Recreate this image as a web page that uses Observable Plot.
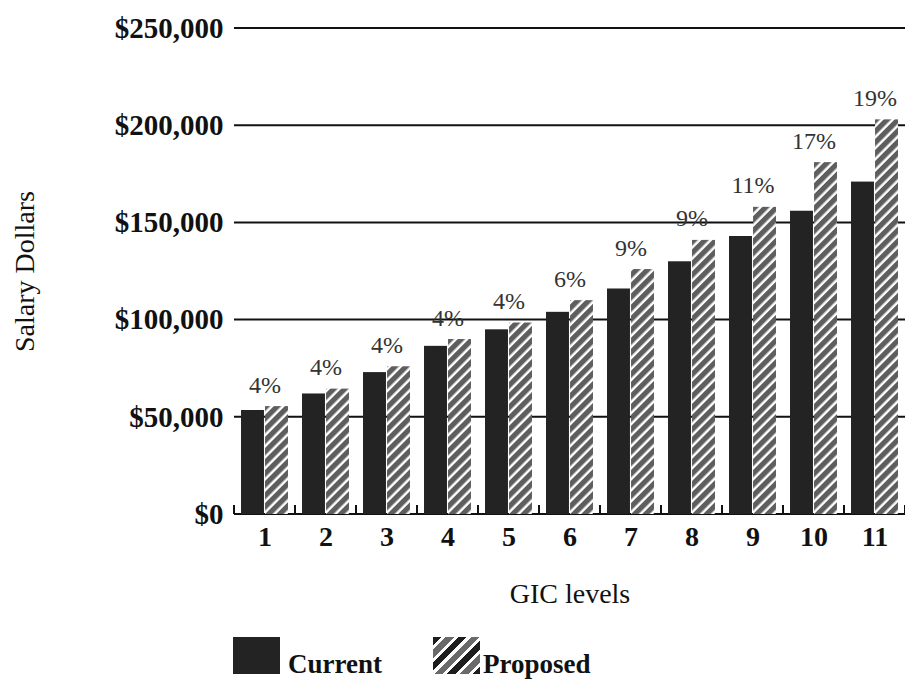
<!DOCTYPE html>
<html>
<head>
<meta charset="utf-8">
<script src="https://cdn.jsdelivr.net/npm/d3@7"></script>
<script src="https://cdn.jsdelivr.net/npm/@observablehq/plot@0.6"></script>
<style>
  body { margin: 0; background: #fff; }
  #wrap { position: relative; width: 905px; height: 682px; overflow: hidden; }
  g[aria-label="y-axis tick label"], g[aria-label="fx-axis tick label"] { font-weight: bold; }
  g[aria-label="y-axis tick label"] { font-size: 29px; }
  g[aria-label="fx-axis tick label"] { font-size: 28px; }
  .leg { position: absolute; font-family: "Liberation Serif", serif; font-size: 27px; font-weight: bold; color: #111; line-height: 27px; white-space: nowrap; }
  .sw { position: absolute; width: 47px; height: 37px; }
</style>
</head>
<body>
<div id="wrap">
  <div id="chart"></div>
  <div class="sw" style="left:233px;top:637px;background:#232323;"></div>
  <div class="leg" style="left:288px;top:651px;">Current</div>
  <div class="sw" style="left:433px;top:637px;background:repeating-linear-gradient(135deg,#1e1e1e 0 6px,#fff 6px 9px,#6a6a6a 9px 15px,#fff 15px 18px);"></div>
  <div class="leg" style="left:483px;top:651px;">Proposed</div>
</div>
<script>
const levels = [1, 2, 3, 4, 5, 6, 7, 8, 9, 10, 11];
const currentSalary = [53500, 62000, 73000, 86500, 95000, 104000, 116000, 130000, 143000, 156000, 171000];
const proposedSalary = [55500, 64500, 76000, 90000, 98500, 110000, 126000, 141000, 158000, 181000, 203000];
const increasePct = [4, 4, 4, 4, 4, 6, 9, 9, 11, 17, 19];
const seriesNames = ["Current", "Proposed"];
const yTicks = [0, 50000, 100000, 150000, 200000, 250000];

const bars = levels.flatMap((l, i) => [
  {level: l, series: seriesNames[0], value: currentSalary[i]},
  {level: l, series: seriesNames[1], value: proposedSalary[i]}
]);
const pctRows = levels.map((l, i) => ({level: l, value: proposedSalary[i], pct: increasePct[i]}));

const chart = Plot.plot({
  width: 905,
  height: 620,
  marginTop: 28,
  marginBottom: 106,
  marginLeft: 234,
  marginRight: 0,
  style: {fontFamily: "'Liberation Serif', serif", fontSize: "28px", color: "#111", background: "#fff", overflow: "visible"},
  fx: {
    domain: levels, axis: "bottom", paddingInner: 0.23, paddingOuter: 0.115, round: false,
    tickSize: 0, tickPadding: 12, label: "GIC levels", labelAnchor: "center", labelOffset: 88
  },
  x: {domain: seriesNames, axis: null, paddingInner: 0.045, paddingOuter: 0, round: false},
  y: {
    domain: [0, 250000], ticks: yTicks, tickFormat: d3.format("$,"), tickSize: 0, tickPadding: 18,
    label: "Salary Dollars", labelAnchor: "center", labelOffset: 227, labelArrow: "none"
  },
  marks: [
    Plot.barY(bars.filter(d => d.series === "Current"), {fx: "level", x: "series", y: "value", fill: "#232323"}),
    Plot.barY(bars.filter(d => d.series === "Proposed"), {fx: "level", x: "series", y: "value", fill: "url(#hatch)"}),
    Plot.text(pctRows, {fx: "level", y: "value", text: d => d.pct + "%", dy: -14, lineAnchor: "bottom", fontSize: 24, fill: "#333"})
  ]
});

const svg = chart.tagName.toLowerCase() === "svg" ? chart : chart.querySelector("svg");
const fx = chart.scale("fx"), ys = chart.scale("y");
const frameLeft = fx.range[0], frameRight = fx.range[1];

// continuous gridlines across all facets, drawn behind the bars through the y scale
const grid = d3.select(svg).insert("g", ":first-child").attr("aria-label", "grid");
grid.selectAll("line").data(yTicks).join("line")
  .attr("x1", frameLeft).attr("x2", frameRight)
  .attr("y1", d => ys.apply(d)).attr("y2", d => ys.apply(d))
  .attr("stroke", "#111").attr("stroke-width", 2);

const defs = d3.select(svg).insert("defs", ":first-child");
const pat = defs.append("pattern")
  .attr("id", "hatch").attr("patternUnits", "userSpaceOnUse")
  .attr("width", 7.8).attr("height", 7.8).attr("patternTransform", "rotate(45)");
pat.append("rect").attr("width", 7.8).attr("height", 7.8).attr("fill", "#fff");
pat.append("rect").attr("width", 5.3).attr("height", 7.8).attr("fill", "#5e5e5e");

// small upward ticks on the baseline between groups, placed via the fx and y scales
const step = fx.step ?? fx.bandwidth / (1 - fx.paddingInner);
const gap = step - fx.bandwidth;
const edges = levels.map(l => fx.apply(l) - gap / 2).concat([fx.apply(levels[levels.length - 1]) + fx.bandwidth + gap / 2]);
d3.select(svg).append("g").selectAll("line").data(edges).join("line")
  .attr("x1", d => d).attr("x2", d => d)
  .attr("y1", ys.apply(0)).attr("y2", ys.apply(0) - 9)
  .attr("stroke", "#111").attr("stroke-width", 2);

document.getElementById("chart").appendChild(chart);
</script>
</body>
</html>
